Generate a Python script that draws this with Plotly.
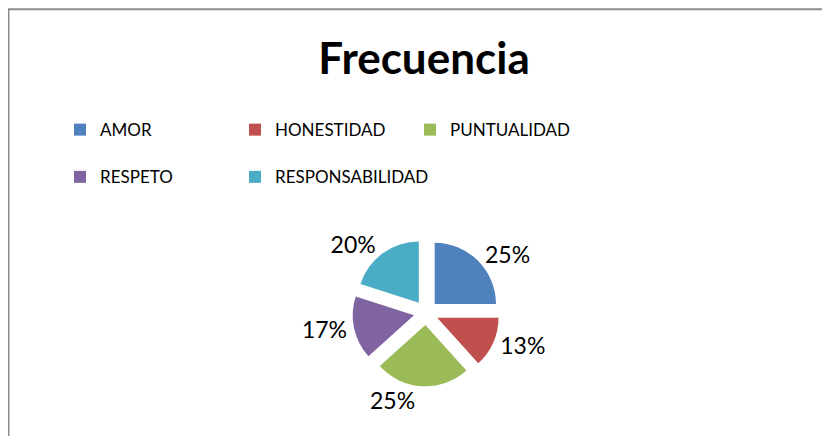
import plotly.graph_objects as go

# Values (counts giving 25/13/25/17/20 %)
categories = ["AMOR", "HONESTIDAD", "PUNTUALIDAD", "RESPETO", "RESPONSABILIDAD"]
counts = [15, 8, 15, 10, 12]
colors = ["#4F81BD", "#C0504D", "#9BBB59", "#8064A2", "#4BACC6"]

W, H = 830, 436
ML, MR, MT, MB = 52, 160, 20, 10
pw, ph = W - ML - MR, H - MT - MB
OFF = 8  # the page body adds an 8px margin; positions below are screen pixels


def px_x(x):
    return (x - OFF - ML) / pw


def px_y(y):
    return (H - MB - (y - OFF)) / ph


# pie centre / size in screen pixels
cx, cy, half = 426, 326, 77

# the trailing blank line makes each legend row taller, like the original
legend_labels = [c + "<br> " for c in categories]

fig = go.Figure(go.Pie(
    labels=legend_labels,
    values=counts,
    customdata=categories,
    sort=False,
    direction="clockwise",
    rotation=0,
    pull=[0.2] * len(counts),
    marker=dict(colors=colors, line=dict(width=0)),
    textposition="outside",
    texttemplate="%{percent:.0%}",
    textfont=dict(size=23, color="black", family="Lato"),
    hovertemplate="%{customdata}: %{value} (%{percent:.0%})<extra></extra>",
    domain=dict(x=[px_x(cx - half), px_x(cx + half)],
                y=[px_y(cy + half), px_y(cy - half)]),
))

# chart frame (left and top edge visible)
fig.add_shape(
    type="rect", xref="paper", yref="paper",
    x0=px_x(8.5), x1=px_x(900), y0=px_y(500), y1=px_y(8.5),
    line=dict(color="#8c8c8c", width=2), fillcolor="rgba(0,0,0,0)",
)

fig.update_layout(
    width=W, height=H,
    title=dict(text="<b>Frecuencia</b>", x=(424 - OFF) / W, xanchor="center",
               y=1 - (58.5 - OFF) / H, yanchor="middle",
               font=dict(size=44, color="black", family="Lato")),
    legend=dict(
        orientation="h", xref="paper", yref="paper",
        x=0, xanchor="left", y=px_y(116), yanchor="top",
        entrywidth=130, entrywidthmode="pixels", valign="top",
        font=dict(size=17, color="black", family="Lato"),
        bgcolor="rgba(0,0,0,0)",
        traceorder="normal",
    ),
    font=dict(family="Lato"),
    margin=dict(l=ML, r=MR, t=MT, b=MB),
    paper_bgcolor="white",
    plot_bgcolor="white",
)

fig.write_html("out.html")
